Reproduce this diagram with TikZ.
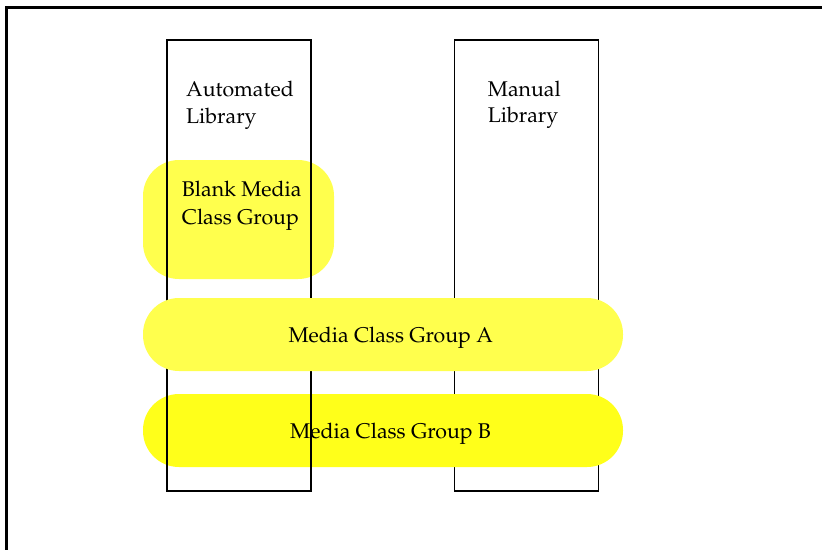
\documentclass[tikz,border=0pt]{standalone}
\usepackage[T1]{fontenc}
\usepackage{mathpazo}
\definecolor{ylight}{RGB}{255,255,77}
\definecolor{ystrong}{RGB}{255,255,26}
\tikzset{
  libbox/.style={draw=black, line width=1.9pt, minimum width=144pt, minimum height=451pt, inner sep=0pt},
  grp/.style={fill=#1, draw=none, rounded corners=36pt, inner sep=0pt},
  lbl/.style={anchor=base west, inner sep=0pt, font=\fontsize{21.3}{26.5}\selectfont}
}
\begin{document}
\begin{tikzpicture}[x=1pt,y=-1pt]
\useasboundingbox (0,0) rectangle (822,550);
% frame (clipped by the page at right and bottom)
\coordinate (fTR) at (822,7.5);
\coordinate (fTL) at (6.5,7.5);
\coordinate (fBL) at (6.5,550);
\draw[line width=2.8pt] (fTR) -- (fTL) -- (fBL);
% manual library box
\node[libbox] (manual) at (526.5,265.5) {};
\node[lbl] (manualA) at (487.7,96) {Manual};
\node[lbl] (manualB) at (487.7,122.7) {Library};
% blank media class group
\node[grp=ylight, minimum width=191pt, minimum height=119pt, rounded corners=36pt] (blank) at (238.5,219.5) {};
\node[lbl] (blankA) at (181.7,196.7) {Blank Media};
\node[lbl] (blankB) at (181.7,224) {Class Group};
% media class group B
\node[grp=ystrong, minimum width=480pt, minimum height=73pt] (groupB) at (383,430.5) {};
\node[lbl] (groupBt) at (290,438.3) {Media Class Group B};
% automated library box
\node[libbox] (auto) at (239,265.5) {};
\node[lbl] (autoA) at (186,96.7) {Automated};
\node[lbl] (autoB) at (186,123) {Library};
% media class group A
\node[grp=ylight, minimum width=480pt, minimum height=73pt] (groupA) at (383,334.5) {};
\node[lbl] (groupAt) at (288.3,342.7) {Media Class Group A};
\end{tikzpicture}
\end{document}
